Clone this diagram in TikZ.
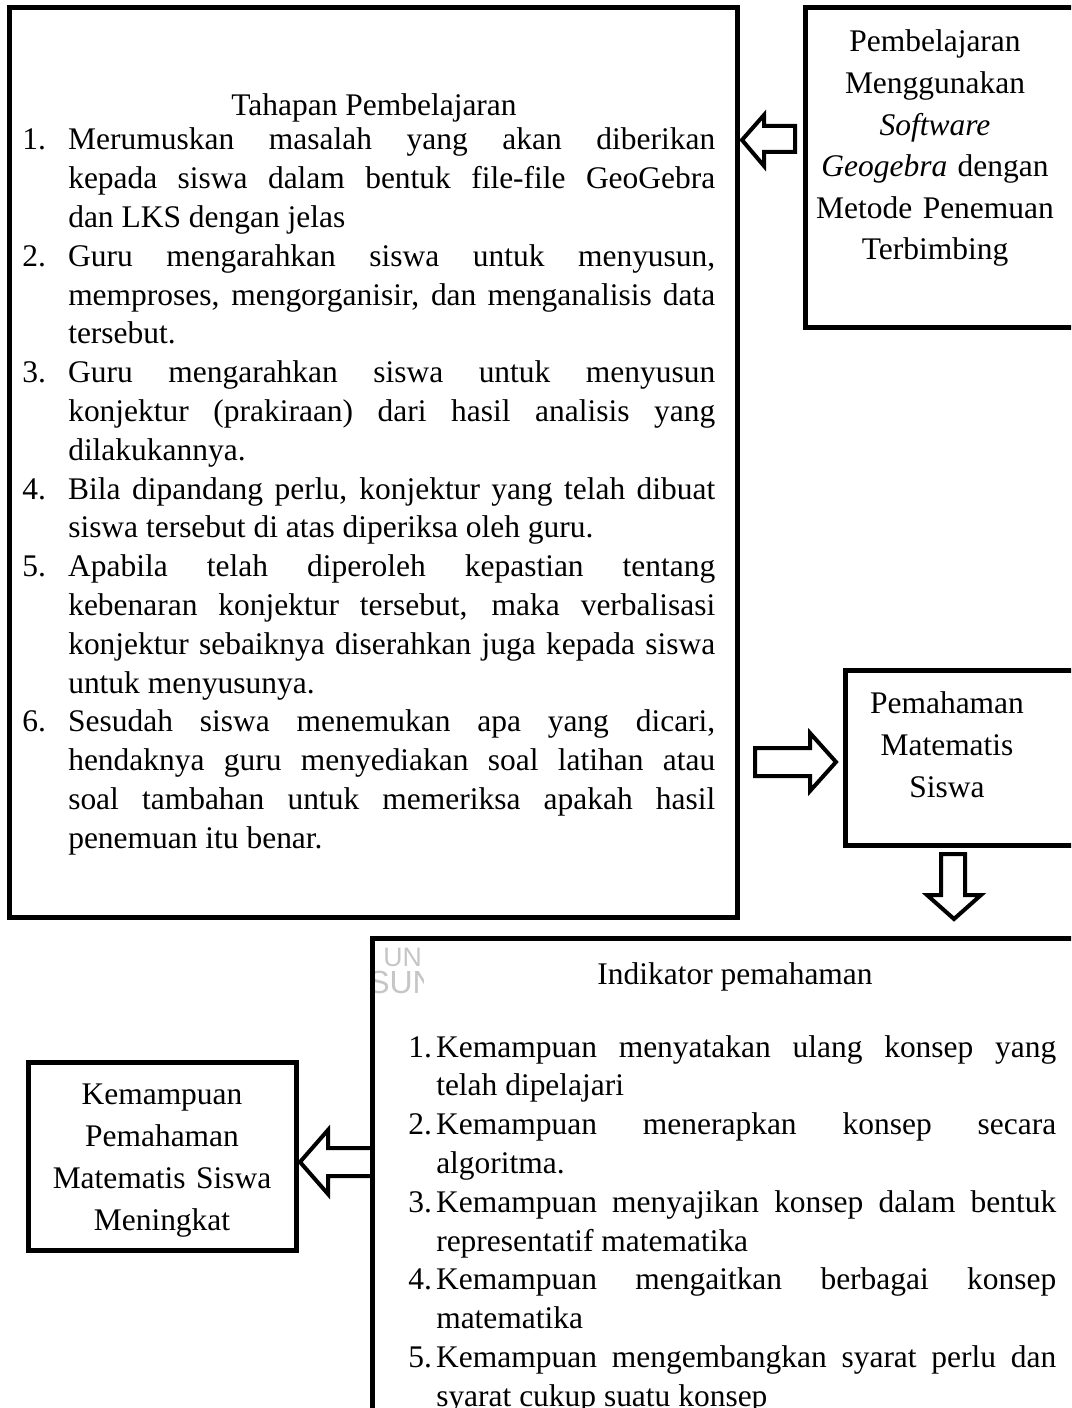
\documentclass[tikz,border=0pt]{standalone}
\usepackage{fontspec}
\setmainfont{Liberation Serif}
\newfontfamily\wmfont{Liberation Sans}
\hyphenpenalty=10000
\exhyphenpenalty=10000
\tolerance=9999
\newlength\hangw
\newcommand\numitem[2]{\noindent\hangindent=\hangw\hangafter=1\makebox[\hangw][l]{#1}#2\par}
\tikzset{
  box/.style={draw, line width=3.75pt},
  barrow/.style={draw, line width=3pt, line join=miter},
  listtext/.style={inner sep=0pt, anchor=base west, align=justify,
    font=\fontsize{23.6}{29.1}\selectfont},
  ctext/.style={inner sep=0pt, anchor=base, align=center},
  wm/.style={inner sep=0pt, anchor=base west, text=gray!45},
}
\begin{document}
\begin{tikzpicture}[x=0.75pt,y=-0.75pt]
\clip (0,0) rectangle (1071,1408);
\fill[white] (0,0) rectangle (1071,1408);
% watermark fragment
\begin{scope}
\clip (360,935) rectangle (423,1000);
\node[wm, font=\wmfont\fontsize{20}{20}\selectfont] (wmA) at (383,966) {UN};
\node[wm, font=\wmfont\fontsize{24}{24}\selectfont] (wmB) at (368,993) {SUN};
\end{scope}
% boxes
\draw[box] (9,7.5) rectangle (737.5,917);
\draw[box] (805,7.5) rectangle (1110,327.5);
\draw[box] (845,670) rectangle (1110,845);
\draw[box] (372.5,938.5) rectangle (1110,1450);
\draw[box] (28,1062) rectangle (296.5,1250);
% box 1 text
\node[ctext, font=\fontsize{23.6}{29.1}\selectfont] (h1) at (374,116) {Tahapan Pembelajaran};
\setlength\hangw{34.5pt}
\node[listtext, text width=519.75pt] (l1) at (22,150) {%
\numitem{1.}{Merumuskan masalah yang akan diberikan\linebreak kepada siswa dalam bentuk file-file GeoGebra\linebreak dan LKS dengan jelas}%
\numitem{2.}{Guru mengarahkan siswa untuk menyusun,\linebreak memproses, mengorganisir, dan menganalisis data\linebreak tersebut.}%
\numitem{3.}{Guru mengarahkan siswa untuk menyusun\linebreak konjektur (prakiraan) dari hasil analisis yang\linebreak dilakukannya.}%
\numitem{4.}{Bila dipandang perlu, konjektur yang telah dibuat\linebreak siswa tersebut di atas diperiksa oleh guru.}%
\numitem{5.}{Apabila telah diperoleh kepastian tentang\linebreak kebenaran konjektur tersebut, maka verbalisasi\linebreak konjektur sebaiknya diserahkan juga kepada siswa\linebreak untuk menyusunya.}%
\numitem{6.}{Sesudah siswa menemukan apa yang dicari,\linebreak hendaknya guru menyediakan soal latihan atau\linebreak soal tambahan untuk memeriksa apakah hasil\linebreak penemuan itu benar.}};
% box 2 text
\node[ctext, text width=200pt, font=\fontsize{23.6}{31.2}\selectfont] (t2) at (935,52) {Pembelajaran\\Menggunakan\\\textit{Software}\\\textit{Geogebra} dengan\\Metode Penemuan\\Terbimbing};
% box 3 text
\node[ctext, text width=190pt, font=\fontsize{23.6}{31.5}\selectfont] (t3) at (947,713) {Pemahaman\\Matematis\\Siswa};
% indikator text
\node[ctext, font=\fontsize{23.6}{29.1}\selectfont] (h4) at (735,984) {Indikator pemahaman};
\setlength\hangw{21pt}
\node[listtext, text width=486pt] (l4) at (408,1057) {%
\numitem{1.}{Kemampuan menyatakan ulang konsep yang\linebreak telah dipelajari}%
\numitem{2.}{Kemampuan menerapkan konsep secara\linebreak algoritma.}%
\numitem{3.}{Kemampuan menyajikan konsep dalam bentuk\linebreak representatif matematika}%
\numitem{4.}{Kemampuan mengaitkan berbagai konsep\linebreak matematika}%
\numitem{5.}{Kemampuan mengembangkan syarat perlu dan\linebreak syarat cukup suatu konsep}};
% kemampuan text
\node[ctext, text width=190pt, font=\fontsize{23.6}{31.5}\selectfont] (t5) at (162,1104) {Kemampuan\\Pemahaman\\Matematis Siswa\\Meningkat};
% block arrows
\draw[barrow] (742,140) -- (764,115) -- (764,126) -- (795,126) -- (795,152) -- (764,152) -- (764,166) -- cycle;
\draw[barrow] (755,748) -- (810,748) -- (810,733) -- (836,762) -- (810,791) -- (810,776) -- (755,776) -- cycle;
\draw[barrow] (941,854) -- (965,854) -- (965,895) -- (981,895) -- (954,919) -- (927,895) -- (941,895) -- cycle;
\draw[barrow] (300,1162) -- (328,1130) -- (328,1148) -- (372,1148) -- (372,1176) -- (328,1176) -- (328,1194) -- cycle;
\end{tikzpicture}
\end{document}
